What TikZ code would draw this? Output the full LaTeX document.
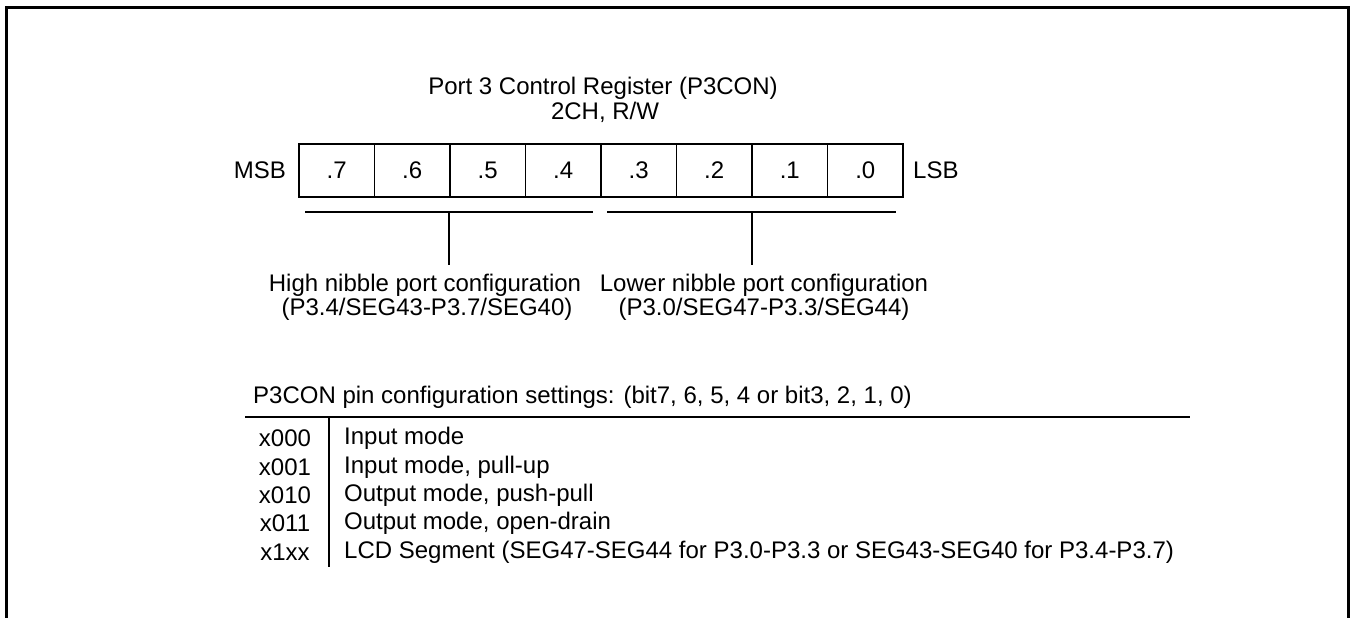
\documentclass[tikz,border=0pt]{standalone}
\usepackage{fontspec}
\setmainfont{Liberation Sans}
\begin{document}
\begin{tikzpicture}[x=1pt,y=-1pt,
  every node/.style={font=\fontsize{24}{24}\selectfont, inner sep=0pt},
  cell/.style={draw, line width=1.2pt, minimum width=75.5pt, minimum height=53pt, anchor=center},
  lbl/.style={anchor=center},
  brk/.style={line width=1.3pt},
  frame/.style={line width=3pt}]
\useasboundingbox (0,0) rectangle (1355,618);
\draw[frame] (6.5,625) -- (6.5,7.5) -- (1348.5,7.5) -- (1348.5,625);
\node[lbl] (title) at (603,88) {Port 3 Control Register (P3CON)};
\node[lbl] (addr) at (605,112) {2CH, R/W};
\foreach \i/\t in {0/.7,1/.6,2/.5,3/.4,4/.3,5/.2,6/.1,7/.0}{
  \node[cell] (c\i) at ({299+75.5*(\i+0.5)},170.5) {\t};
}
\node[anchor=east] (msb) at (286,170.5) {MSB};
\node[anchor=west] (lsb) at (913,170.5) {LSB};
\coordinate (hl) at (305,212);
\coordinate (hr) at (593,212);
\coordinate (lr1) at (607,212);
\coordinate (lr2) at (896,212);
\coordinate (hm) at (449,212);
\coordinate (lm) at (752,212);
\coordinate (hs) at (449,265);
\coordinate (ls) at (752,265);
\node[lbl] (high1) at (425,285) {High nibble port configuration};
\node[lbl] (high2) at (427,309) {(P3.4/SEG43-P3.7/SEG40)};
\node[lbl] (low1) at (764,285) {Lower nibble port configuration};
\node[lbl] (low2) at (764,309) {(P3.0/SEG47-P3.3/SEG44)};
\draw[brk] (hl) -- (hr);
\draw[brk] (lr1) -- (lr2);
\draw[brk] (hm) -- (hs);
\draw[brk] (lm) -- (ls);
\node[anchor=west] (hdr) at (253,397) {P3CON pin configuration settings: (bit7, 6, 5, 4 or bit3, 2, 1, 0)};
\coordinate (tl) at (245,417);
\coordinate (tr) at (1190,417);
\draw[line width=1.6pt] (tl) -- (tr);
\coordinate (vt) at (329,417);
\coordinate (vb) at (329,567);
\draw[line width=1.6pt] (vt) -- (vb);
\foreach \y/\c/\d in {438/x000/Input mode, 467/x001/{Input mode, pull-up}, 495/x010/{Output mode, push-pull}, 523/x011/{Output mode, open-drain}, 552/x1xx/{LCD Segment (SEG47-SEG44 for P3.0-P3.3 or SEG43-SEG40 for P3.4-P3.7)}}{
  \node[lbl] (code\c) at (285,\y) {\c};
  \node[anchor=west] (desc\c) at (344,\y) {\d};
}
\end{tikzpicture}
\end{document}
